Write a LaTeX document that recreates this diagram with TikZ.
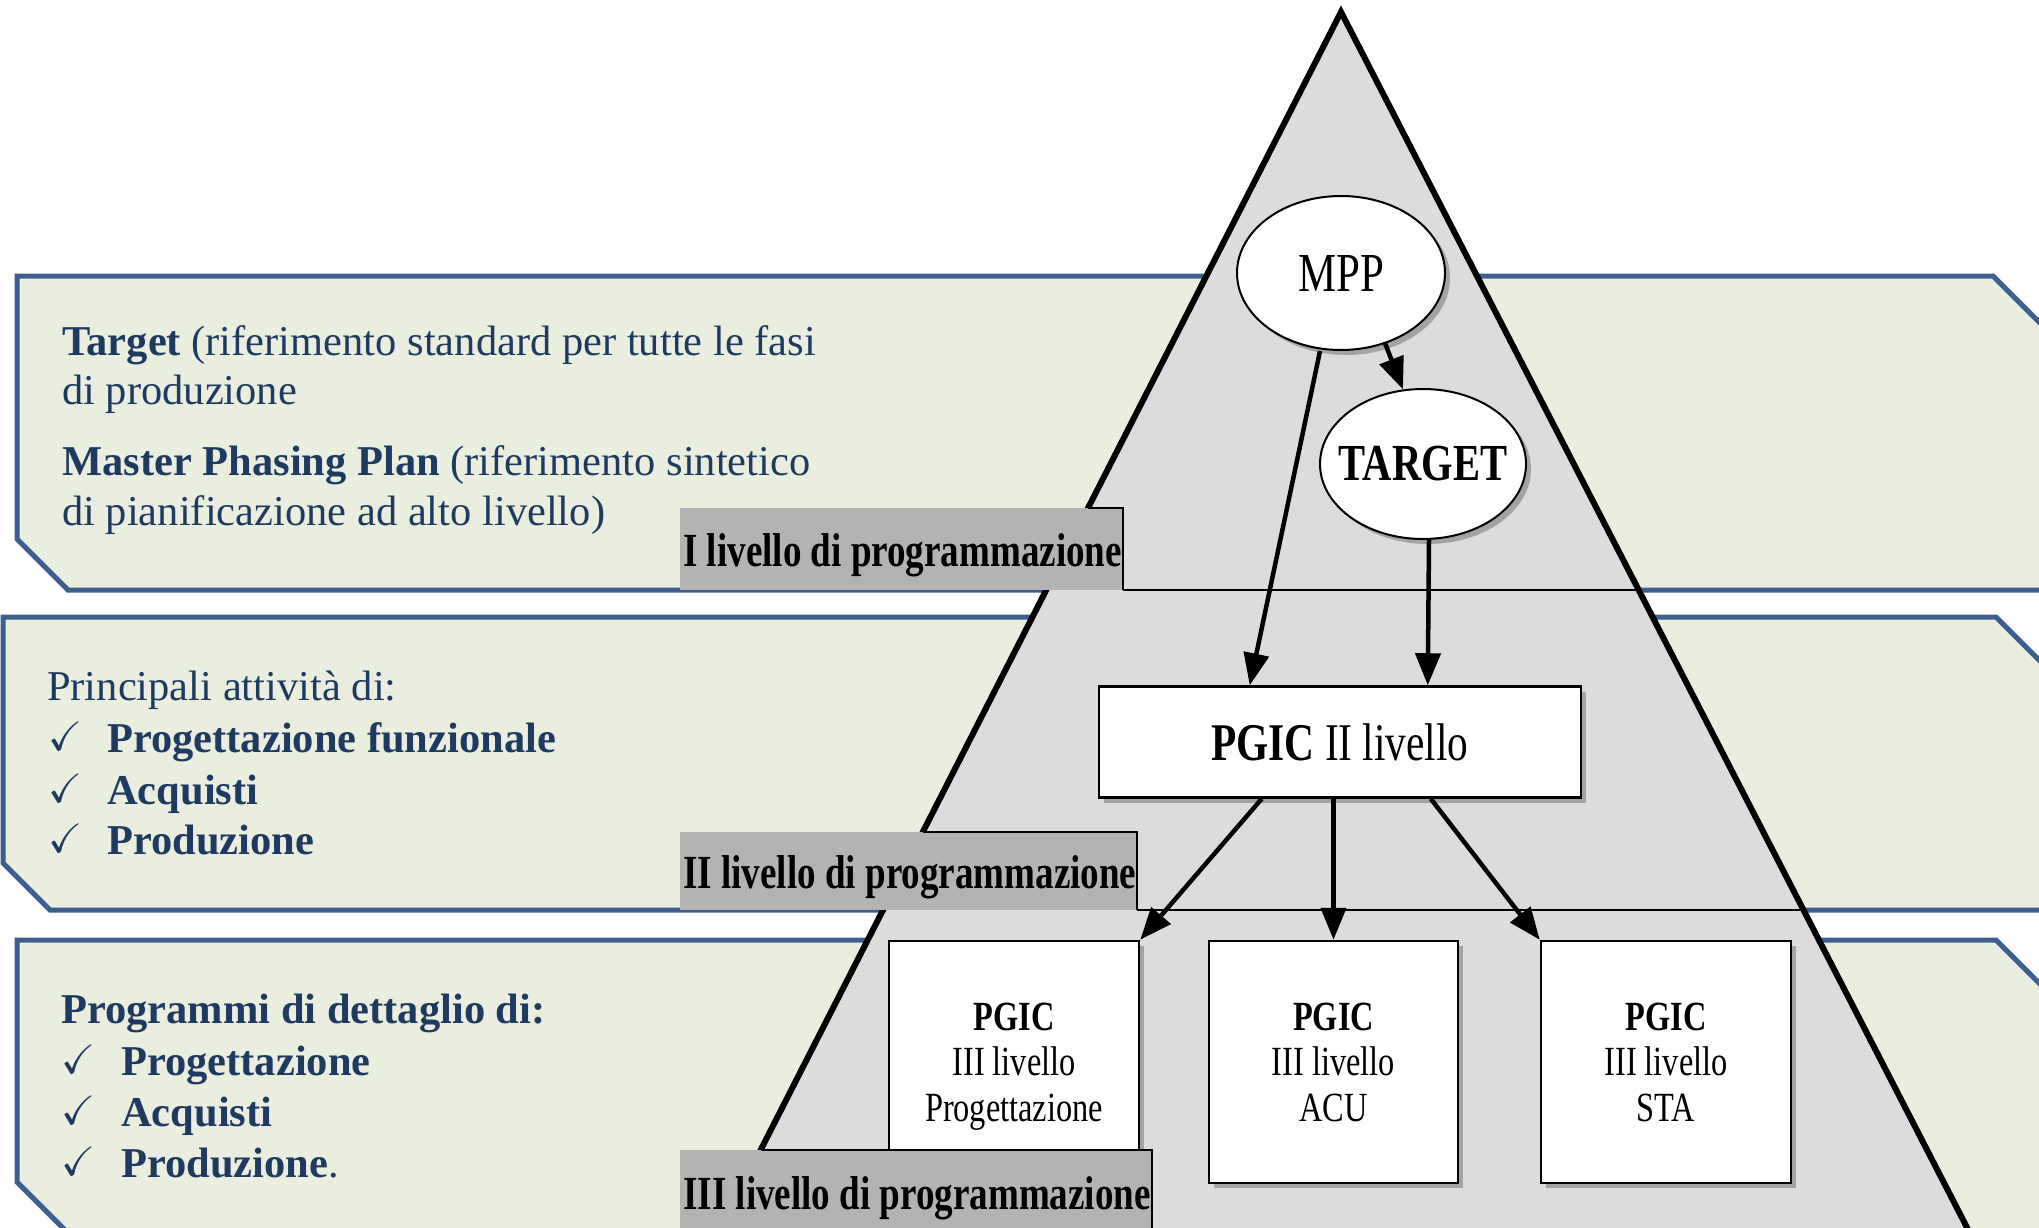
\documentclass[tikz,border=0pt]{standalone}
\usepackage{amssymb}
\usepackage{fontspec}
\setmainfont{Liberation Serif}
\newfontfamily\pyr[FakeStretch=0.78]{Liberation Serif}
\usetikzlibrary{arrows.meta,shapes.geometric,shadows,calc}
\definecolor{bandfill}{HTML}{EAEEDF}
\definecolor{bandline}{HTML}{3C5F8F}
\definecolor{navy}{HTML}{1F3A60}
\definecolor{pyrfill}{HTML}{DCDCDC}
\definecolor{labfill}{HTML}{B3B3B3}
\tikzset{
  band/.style={fill=bandfill, draw=bandline, line width=5, line join=miter},
  txt/.style={anchor=base west, inner sep=0, text=navy, font=\fontsize{42.5}{51}\selectfont},
  tick/.style={anchor=base west, inner sep=0, text=navy, font=\fontsize{41}{43}\selectfont},
  lab/.style={anchor=base west, inner sep=0, text=black, font=\pyr\bfseries\fontsize{47.5}{50}\selectfont},
  shade/.style={drop shadow={shadow xshift=5pt, shadow yshift=-5pt, fill=black!45, opacity=0.7}},
  oval/.style={ellipse, draw, fill=white, line width=2, inner sep=0, shade},
  pbox/.style={rectangle, draw, fill=white, line width=2.5, inner sep=0, shade, align=center},
  arr/.style={-{Triangle[length=32pt,width=25pt]}, line width=4.5},
}
\begin{document}
\begin{tikzpicture}[x=1pt,y=-1pt]
\useasboundingbox (0,0) rectangle (2039,1228);
\clip (0,0) rectangle (2039,1228);

% three bands behind the pyramid
\draw[band] (17,276) -- (1993,276) -- (2150,433) -- (2150,590) -- (68,590) -- (17,539) -- cycle;
\draw[band] (3,617) -- (1996,617) -- (2150,771) -- (2150,910) -- (50,910) -- (3,863) -- cycle;
\draw[band] (17,940) -- (1996,940) -- (2150,1094) -- (2150,1233) -- (68,1233) -- (17,1182) -- cycle;

% pyramid
\path[fill=pyrfill] (1341,12) -- (2010.5,1312) -- (678,1312) -- cycle;
\begin{scope}
  \clip (1341,12) -- (2010.5,1312) -- (678,1312) -- cycle;
  \draw[line width=2.5] (1123,590) -- (1800,590);
  \draw[line width=2.5] (1137,910) -- (2000,910);
\end{scope}
\draw[line width=6, line join=miter] (1341,12) -- (2010.5,1312) -- (678,1312) -- cycle;

% level labels I and II
\fill[labfill] (680,508) rectangle (1123,590);
\draw[line width=2.5] (1088,508) -- (1123,508) -- (1123,590);
\node[lab] (l1) at (683,566) {I livello di programmazione};

\fill[labfill] (680,832) rectangle (1137,910);
\draw[line width=2.5] (923,832) -- (1137,832) -- (1137,910);
\node[lab] (l2) at (683,888) {II livello di programmazione};

% planning nodes
\node[oval, minimum width=208, minimum height=154, font=\pyr\fontsize{55}{60}\selectfont] (mpp) at (1341,273) {\makebox[0pt]{MPP}};
\node[oval, minimum width=206, minimum height=150, font=\pyr\bfseries\fontsize{52}{56}\selectfont] (tgt) at (1423,464) {\makebox[0pt]{TARGET}};
\node[pbox, minimum width=482, minimum height=111, font=\pyr\fontsize{53}{56}\selectfont] (p2) at (1340,742) {\textbf{PGIC} II livello};
\node[pbox, minimum width=250, minimum height=242, font=\pyr\fontsize{41.5}{45.5}\selectfont] (pr) at (1014,1062) {\textbf{PGIC}\\III livello\\\raisebox{0pt}[\height][0pt]{Progettazione}};
\node[pbox, minimum width=249, minimum height=242, font=\pyr\fontsize{41.5}{45.5}\selectfont] (acu) at (1333.5,1062) {\textbf{PGIC}\\III livello\\ACU};
\node[pbox, minimum width=250, minimum height=242, font=\pyr\fontsize{41.5}{45.5}\selectfont] (sta) at (1666,1062) {\textbf{PGIC}\\III livello\\STA};

% connectors
\draw[arr] (mpp.-58) -- (tgt.105);
\draw[arr] ($(mpp.south)+(-21,0)$) -- ($(p2.north west)+(152,0)$);
\draw[arr] ($(tgt.south)+(6,0)$) -- ($(p2.north west)+(330,0)$);
\draw[arr] ($(p2.south west)+(164,0)$) -- (pr.north east);
\draw[arr] (acu.north |- p2.south) -- (acu.north);
\draw[arr] ($(p2.south west)+(333,0)$) -- (sta.north west);

% level label III, in front of the lowest boxes
\fill[labfill] (680,1150) rectangle (1152,1240);
\draw[line width=2.5] (761,1150) -- (1152,1150) -- (1152,1240);
\node[lab] (l3) at (683,1209) {III livello di programmazione};

% band texts
\node[txt] (t1) at (62,355) {\textbf{Target} (riferimento standard per tutte le fasi};
\node[txt] (t2) at (62,404) {di produzione};
\node[txt] (t3) at (62,475) {\textbf{Master Phasing Plan} (riferimento sintetico};
\node[txt] (t4) at (62,525) {di pianificazione ad alto livello)};

\node[txt] (s0) at (47,700) {Principali attività di:};
\node[tick] (c1) at (48,750) {$\checkmark$};
\node[tick] (c2) at (48,802) {$\checkmark$};
\node[tick] (c3) at (48,852) {$\checkmark$};
\node[txt] (s1) at (107,752) {\textbf{Progettazione funzionale}};
\node[txt] (s2) at (107,804) {\textbf{Acquisti}};
\node[txt] (s3) at (107,854) {\textbf{Produzione}};

\node[txt] (d0) at (61,1023) {\textbf{Programmi di dettaglio di:}};
\node[tick] (e1) at (61,1073) {$\checkmark$};
\node[tick] (e2) at (61,1124) {$\checkmark$};
\node[tick] (e3) at (61,1175) {$\checkmark$};
\node[txt] (d1) at (121,1075) {\textbf{Progettazione}};
\node[txt] (d2) at (121,1126) {\textbf{Acquisti}};
\node[txt] (d3) at (121,1177) {\textbf{Produzione}.};
\end{tikzpicture}
\end{document}
